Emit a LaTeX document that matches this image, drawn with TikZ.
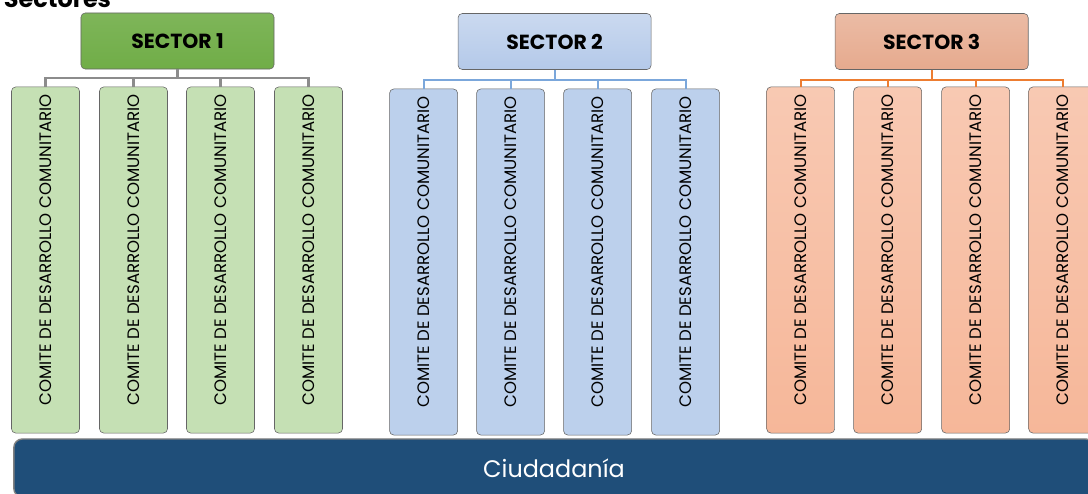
\documentclass[tikz,border=0pt]{standalone}
\usepackage{fontspec}
\setmainfont{Poppins}
\definecolor{verde}{HTML}{70AD47}
\definecolor{verdeclaro}{HTML}{C5E0B4}
\definecolor{celeste}{HTML}{B4C9E9}
\definecolor{celesteclaro}{HTML}{BCD0EC}
\definecolor{salmon}{HTML}{E6AA8E}
\definecolor{salmonclaro}{HTML}{F6B799}
\definecolor{azul}{HTML}{1F4E79}
\definecolor{ramaazul}{HTML}{7BA7DB}
\definecolor{ramanaranja}{HTML}{ED7D31}
\newcommand{\cdc}{\hspace*{0.5cm}COMITE DE DESARROLLO COMUNITARIO}
\tikzset{
  sector/.style={draw=black!60, rounded corners=3pt, inner sep=0pt,
    minimum width=4.825cm, minimum height=1.4cm,
    font=\bfseries\fontsize{14.5}{16}\selectfont},
  comite/.style={draw=black!60, rounded corners=3pt, rotate=90, inner sep=0pt,
    minimum width=8.65cm, minimum height=1.7cm,
    font=\fontsize{11.8}{13}\selectfont},
  rama/.style={line width=1.5pt}
}
\begin{document}
\begin{tikzpicture}[x=0.025cm,y=-0.025cm]
\useasboundingbox (0,0) rectangle (1088,494);
\node[anchor=base west, font=\bfseries\fontsize{17}{18}\selectfont] (titulo) at (-1,7) {Sectores};

% sector 1
\begin{scope}
\node[sector, top color=verde!90!white, bottom color=verde] (s1) at (177.5,41) {SECTOR 1};
\foreach \i/\dx in {1/-132,2/-44,3/43,4/131}
  \node[comite, fill=verdeclaro] (c1-\i) at ({177.5+\dx},260) {\cdc};
\foreach \i in {1,...,4}
  \draw[rama, draw=black!45] (s1.south) -- ++(0,9) -| (c1-\i.east);
\end{scope}

% sector 2
\begin{scope}[xshift=9.425cm]
\node[sector, top color=celeste!70!white, bottom color=celeste] (s2) at (177.5,41.5) {SECTOR 2};
\foreach \i/\dx in {1/-131,2/-44,3/43,4/131}
  \node[comite, fill=celesteclaro] (c2-\i) at ({177.5+\dx},262) {\cdc};
\foreach \i in {1,...,4}
  \draw[rama, draw=ramaazul] (s2.south) -- ++(0,10) -| (c2-\i.east);
\end{scope}

% sector 3
\begin{scope}[xshift=18.85cm]
\node[sector, top color=salmon!80!white, bottom color=salmon] (s3) at (177.5,41.5) {SECTOR 3};
\foreach \i/\dx in {1/-131,2/-44,3/44,4/131}
  \node[comite, top color=salmonclaro!75!white, bottom color=salmonclaro] (c3-\i) at ({177.5+\dx},260) {\cdc};
\foreach \i in {1,...,4}
  \draw[rama, draw=ramanaranja] (s3.south) -- ++(0,10) -| (c3-\i.east);
\end{scope}

% ciudadania
\node[draw=black!50, line width=1pt, fill=azul, text=white, rounded corners=6pt,
  minimum width=27cm, minimum height=1.45cm, font=\fontsize{17}{18}\selectfont] (ciudad) at (554,468) {Ciudadanía};
\end{tikzpicture}
\end{document}
